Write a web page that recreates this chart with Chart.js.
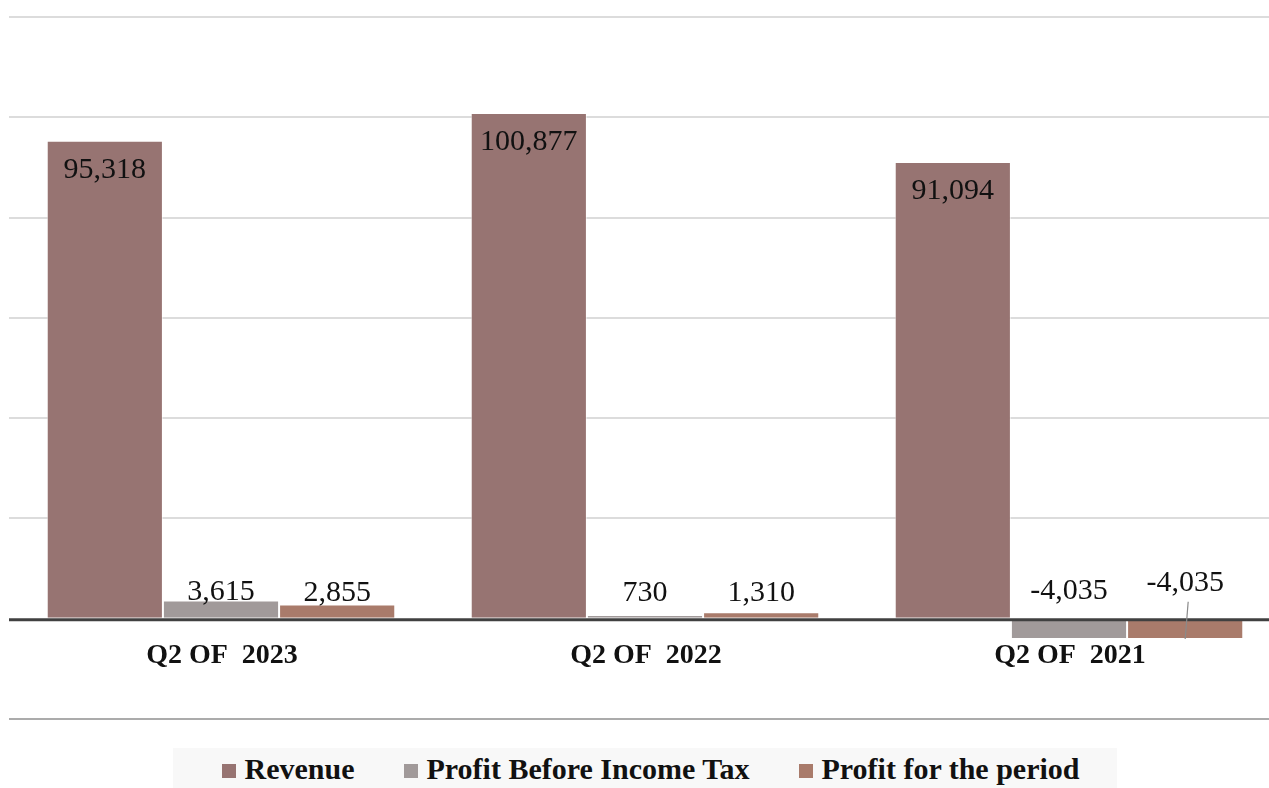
<!DOCTYPE html>
<html>
<head>
<meta charset="utf-8">
<script src="https://cdn.jsdelivr.net/npm/chart.js@4"></script>
<style>
  body { margin: 0; overflow: hidden; background: #fff; width: 1269px; height: 788px; position: relative; }
  #wrap { position: absolute; left: 0; top: 0; width: 1281px; height: 740px; }
  .legend {
    position: absolute; left: 173px; top: 748px; width: 944px; height: 50px;
    background: #f8f8f8; display: flex; justify-content: center; align-items: center;
    font-family: "Liberation Serif", serif; font-weight: bold; font-size: 30px; color: #111;
    padding-left: 12px; box-sizing: border-box; padding-bottom: 8px;
  }
  .legend span.item { display: flex; align-items: center; margin-right: 50px; }
  .legend span.item:last-child { margin-right: 0; }
  .legend i { display: inline-block; width: 14px; height: 14px; margin-right: 8px; margin-top: 4px; }
</style>
</head>
<body>
<div id="wrap"><canvas id="barChart" width="1281" height="740"></canvas></div>
<div class="legend" id="legend"></div>
<script>
const categories = ["Q2 OF  2023", "Q2 OF  2022", "Q2 OF  2021"];
const seriesNames = ["Revenue", "Profit Before Income Tax", "Profit for the period"];
const revenue = [95318, 100877, 91094];
const profitBeforeTax = [3615, 730, -4035];
const profitForPeriod = [2855, 1310, -4035];
const colors = ["#977472", "#a19a9a", "#a97b6b"];

// legend
const legend = document.getElementById("legend");
seriesNames.forEach((name, i) => {
  const item = document.createElement("span");
  item.className = "item";
  item.innerHTML = '<i style="background:' + colors[i] + '"></i>' + name;
  legend.appendChild(item);
});

const fmt = (v) => v.toLocaleString("en-US");

const labelsPlugin = {
  id: "labelsPlugin",
  afterDatasetsDraw(chart) {
    const c = chart.ctx;
    const yScale = chart.scales.y;
    const xScale = chart.scales.x;
    const zero = yScale.getPixelForValue(0);
    const area = chart.chartArea;

    // zero axis line on top of bars
    c.save();
    c.strokeStyle = "#404040";
    c.lineWidth = 3;
    c.beginPath();
    c.moveTo(area.left, zero + 1);
    c.lineTo(area.right, zero + 1);
    c.stroke();

    // value labels
    c.font = "30px 'Liberation Serif'";
    c.fillStyle = "#111";
    c.textAlign = "center";
    c.textBaseline = "middle";
    chart.data.datasets.forEach((ds, di) => {
      const meta = chart.getDatasetMeta(di);
      meta.data.forEach((bar, i) => {
        const v = ds.data[i];
        let y;
        if (di === 0) {
          y = bar.y + 29;
        } else if (v >= 0) {
          y = Math.min(bar.y - 8, zero - 26);
        } else if (di === 2) {
          y = zero - 36;
          c.strokeStyle = "#8a8a8a";
          c.lineWidth = 1.2;
          c.beginPath();
          c.moveTo(bar.x + 3, y + 19);
          c.lineTo(bar.x, bar.y);
          c.stroke();
        } else {
          y = zero - 28;
        }
        c.fillText(fmt(v), bar.x, y);
      });
    });

    // category labels next to the zero axis
    c.font = "bold 28px 'Liberation Serif'";
    categories.forEach((cat, i) => {
      c.fillText(cat, xScale.getPixelForValue(i) + 1, zero + 37);
    });
    c.restore();
  },
};

const ctx = document.getElementById("barChart").getContext("2d");
const barChart = new Chart(ctx, {
  type: "bar",
  data: {
    labels: categories,
    datasets: [
      { label: seriesNames[0], data: revenue, backgroundColor: colors[0] },
      { label: seriesNames[1], data: profitBeforeTax, backgroundColor: colors[1] },
      { label: seriesNames[2], data: profitForPeriod, backgroundColor: colors[2] },
    ].map((d) => Object.assign(d, {
      borderColor: "rgba(255,255,255,0.55)",
      borderWidth: 1,
      barPercentage: 1,
      categoryPercentage: 0.822,
    })),
  },
  options: {
    responsive: false,
    animation: false,
    layout: { padding: { left: 9, top: 17, bottom: 21, right: 0 } },
    plugins: {
      legend: { display: false },
      tooltip: { enabled: false },
    },
    scales: {
      x: {
        display: false,
        grid: { display: false },
      },
      y: {
        min: -20000,
        max: 120000,
        ticks: { stepSize: 20000, display: false },
        border: { display: false },
        grid: {
          drawTicks: false,
          color: (c) => (c.tick.value === 0 ? "rgba(0,0,0,0)" : c.tick.value === -20000 ? "#ababab" : "#dcdcdc"),
          lineWidth: 2,
        },
      },
    },
  },
  plugins: [labelsPlugin],
});
</script>
</body>
</html>
